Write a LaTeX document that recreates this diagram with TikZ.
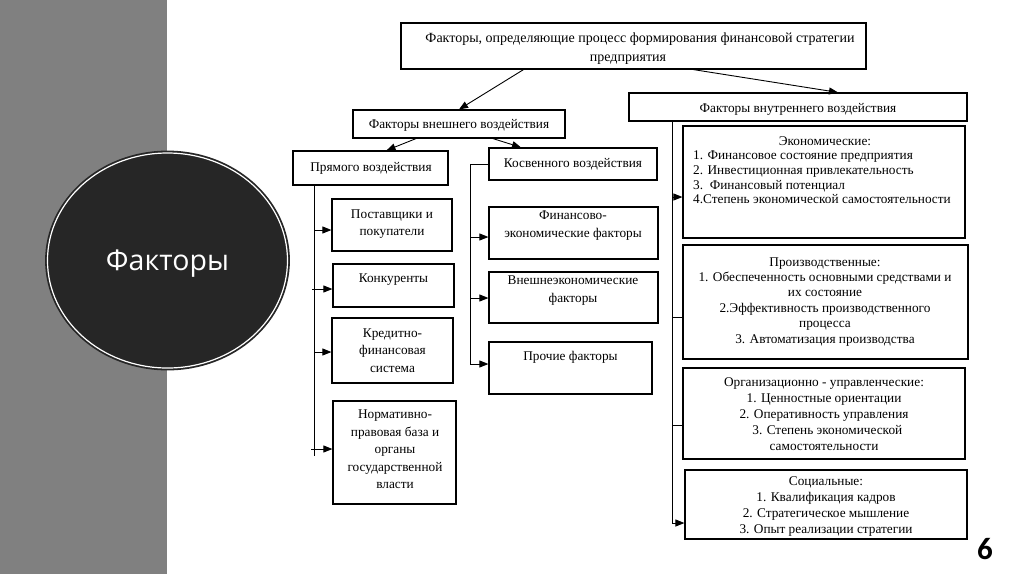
\documentclass[tikz,border=0pt]{standalone}
\usepackage{fontspec}
\setmainfont{Liberation Serif}
\newfontfamily\sansf{Open Sans}
\newfontfamily\numf{Carlito}
\usetikzlibrary{arrows.meta,shapes.geometric}
\definecolor{band}{RGB}{128,128,128}
\definecolor{dark}{RGB}{38,38,38}
\newcommand\mlc[3]{{\fontsize{#1}{#2}\selectfont\begin{tabular}[t]{@{}c@{}}#3\end{tabular}}}
\newcommand\mll[3]{{\fontsize{#1}{#2}\selectfont\begin{tabular}[t]{@{}l@{}}#3\end{tabular}}}
\newcommand\bx[5]{\node[box, minimum width={#4pt-#2pt}, minimum height={#5pt-#3pt}] (#1) at ({(#2+#4)/2},{(#3+#5)/2}) {};}
\begin{document}
\begin{tikzpicture}[x=1pt,y=-1pt,
  box/.style={draw=black, line width=1.2pt, inner sep=0pt, fill=white},
  txt/.style={inner sep=0pt, anchor=base, text=black},
  conn/.style={line width=0.9pt, draw=black},
  arr/.style={conn, -{Triangle[length=9pt,width=7pt]}},
  arrin/.style={conn, {Triangle[length=9pt,width=7pt]}-}]
\useasboundingbox (0,0) rectangle (1024,574);
\fill[white] (0,0) rectangle (1024,574);
\fill[band] (0,0) rectangle (167,574);
\node[ellipse, draw=dark, double=white, double distance=1.2pt, line width=1.8pt,
      fill=dark, minimum width=240pt, minimum height=215pt, inner sep=0pt] (circ) at (167.5,260.5) {};
\node[inner sep=0pt, text=white, font=\sansf\fontsize{28.5}{30}\selectfont] (ctext) at (167.5,264) {Факторы};
\node[inner sep=0pt, font=\numf\bfseries\fontsize{31}{32}\selectfont] (pg) at (985,549) {6};

% boxes
\bx{top}{401}{23}{866}{69}
\bx{int}{629}{93}{967}{121}
\bx{ext}{353}{110}{565}{138}
\bx{pryam}{293}{151}{448}{185}
\bx{kosv}{489}{148}{657}{180}
\bx{econ}{683}{126}{965}{238}
\bx{post}{332}{199}{452}{251}
\bx{konk}{333}{264}{454}{307}
\bx{kred}{332}{318}{453}{383}
\bx{norm}{333}{401}{456}{504}
\bx{fin}{489}{207}{658}{259}
\bx{vnesh}{489}{272}{658}{323}
\bx{proch}{489}{342}{652}{394}
\bx{proizv}{683}{245}{968}{359}
\bx{org}{683}{368}{965}{459}
\bx{soc}{685}{470}{967}{539}

% texts
\node[txt] (ttop) at (640,42.5) {\mlc{14}{19}{Факторы, определяющие процесс формирования финансовой стратегии\\предприятия\hspace*{24pt}}};
\node[txt] (tint) at (798,112) {\mlc{13.3}{15}{Факторы внутреннего воздействия}};
\node[txt] (text) at (459,128) {\mlc{13.3}{15}{Факторы внешнего воздействия}};
\node[txt] (tpryam) at (371,171.5) {\mlc{13.3}{15}{Прямого воздействия}};
\node[txt] (tkosv) at (573,167) {\mlc{13.3}{15}{Косвенного воздействия}};
\node[txt, anchor=base west] (tecon) at (693,145) {\mll{13.3}{14.7}{\multicolumn{1}{c}{\hspace*{6pt}Экономические:}\\1. Финансовое состояние предприятия\\2. Инвестиционная привлекательность\\3.\ \ Финансовый потенциал\\4.Степень экономической самостоятельности}};
\node[txt] (tpost) at (392,218.5) {\mlc{13.3}{17}{Поставщики и\\покупатели}};
\node[txt] (tkonk) at (393.5,282) {\mlc{13.3}{17}{Конкуренты}};
\node[txt] (tkred) at (392.5,337) {\mlc{13.3}{17.5}{Кредитно-\\финансовая\\система}};
\node[txt] (tnorm) at (395,418.5) {\mlc{13.3}{17.5}{Нормативно-\\правовая база и\\органы\\государственной\\власти}};
\node[txt] (tfin) at (573,219.5) {\mlc{13.3}{18}{Финансово-\\экономические факторы}};
\node[txt] (tvnesh) at (573,284.5) {\mlc{13.3}{18}{Внешнеэкономические\\факторы}};
\node[txt] (tproch) at (570.5,360.5) {\mlc{13.3}{15}{Прочие факторы}};
\node[txt] (tproizv) at (825,266) {\mlc{13.3}{15.4}{Производственные:\\1. Обеспеченность основными средствами и\\их состояние\\2.Эффективность производственного\\процесса\\3. Автоматизация производства}};
\node[txt] (torg) at (824,386) {\mlc{13.3}{16}{Организационно - управленческие:\\1. Ценностные ориентации\\2. Оперативность управления\\\ \ 3. Степень экономической\\самостоятельности}};
\node[txt] (tsoc) at (826,485) {\mlc{13.3}{16}{Социальные:\\1. Квалификация кадров\\2. Стратегическое мышление\\3. Опыт реализации стратегии}};

% connectors
\draw[arr] ([xshift=-110pt]top.south) -- (ext.north);
\draw[arr] ([xshift=60pt]top.south) -- ([xshift=40pt]int.north);
\draw[arr] ([xshift=-43pt]ext.south) -- ([xshift=16pt]pryam.north);
\draw[arr] ([xshift=34pt]ext.south) -- ([xshift=-52pt]kosv.north);

\coordinate (pv) at ([xshift=22pt]pryam.south west);
\draw[conn] (pv) -- ++(0,270);
\draw[arrin] ([yshift=-5pt]post.west) -- ++(-17,0);
\draw[arrin] ([yshift=-3.5pt]konk.west) -- ++(-20,0);
\draw[arrin] ([yshift=-1.5pt]kred.west) -- ++(-17,0);
\draw[arrin] ([yshift=3.5pt]norm.west) -- ++(-21,0);

\coordinate (kv) at ([xshift=-18pt]kosv.west);
\draw[conn] (kosv.west) -- (kv) -- ++(0,201);
\draw[arrin] ([yshift=-4pt]fin.west) -- ++(-18,0);
\draw[arrin] ([yshift=-0.5pt]vnesh.west) -- ++(-18,0);
\draw[arrin] ([yshift=4pt]proch.west) -- ++(-18,0);

\coordinate (iv) at ([xshift=44pt]int.south west);
\draw[conn] (iv) -- ++(0,402);
\draw[arrin] ([yshift=-15pt]econ.west) -- ++(-10,0);
\draw[conn] ([yshift=-15pt]proizv.west) -- ++(-10,0);
\draw[conn] ([yshift=-11.5pt]org.west) -- ++(-10,0);
\draw[arrin] ([yshift=-18.5pt]soc.west) -- ++(-12,0);
\end{tikzpicture}
\end{document}
